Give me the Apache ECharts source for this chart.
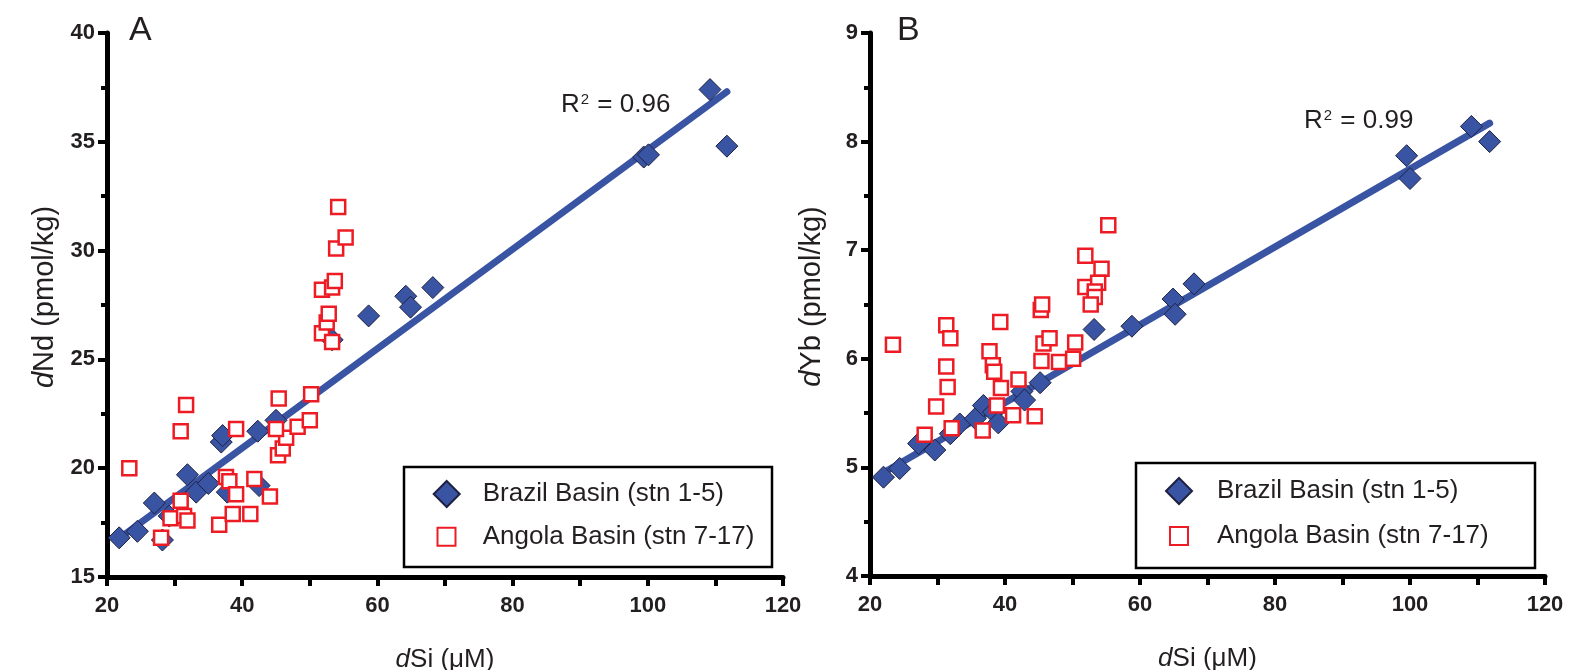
<!DOCTYPE html>
<html>
<head>
<meta charset="utf-8">
<script src="https://cdn.jsdelivr.net/npm/echarts@6/dist/echarts.min.js"></script>
<style>
  html, body { margin: 0; padding: 0; background: #fff; }
  #chart { width: 1576px; height: 670px; }
</style>
</head>
<body>
<div id="chart"></div>
<script>
// axis ranges
const siRange = [20, 120];
const ndRange = [15, 40];
const ybRange = [4, 9];

const brazilName = 'Brazil Basin (stn 1-5)';
const angolaName = 'Angola Basin (stn 7-17)';

// panel A: dSi (uM) vs dNd (pmol/kg)
const brazilNd = [
  [21.8, 16.8], [24.5, 17.1], [27.0, 18.4], [28.2, 16.7], [29.2, 17.8],
  [31.9, 19.7], [33.2, 18.9], [35.0, 19.3], [36.9, 21.2], [37.1, 21.5],
  [37.8, 18.9], [42.5, 19.2], [42.3, 21.7], [45.0, 22.2], [53.3, 25.9],
  [58.7, 27.0], [64.2, 27.9], [64.9, 27.4], [68.2, 28.3], [99.4, 34.3],
  [100.1, 34.4], [109.2, 37.4], [111.7, 34.8]
];
const angolaNd = [
  [23.3, 20.0], [28.0, 16.8], [29.4, 17.7], [31.4, 17.8], [31.9, 17.6],
  [30.9, 18.5], [30.9, 21.7], [31.7, 22.9], [36.6, 17.4], [38.6, 17.9],
  [41.2, 17.9], [37.6, 19.6], [38.1, 19.4], [39.1, 18.8], [41.8, 19.5],
  [44.1, 18.7], [39.1, 21.8], [45.3, 20.6], [46.0, 20.9], [46.5, 21.4],
  [45.0, 21.8], [48.2, 21.9], [50.0, 22.2], [45.4, 23.2], [50.2, 23.4],
  [51.8, 26.2], [52.5, 26.7], [52.8, 27.1], [53.3, 25.8], [51.8, 28.2],
  [53.3, 28.3], [53.7, 28.6], [53.9, 30.1], [55.3, 30.6], [54.2, 32.0]
];
const fitNd = [[22.8, 17.0], [111.7, 37.3]];

// panel B: dSi (uM) vs dYb (pmol/kg)
const brazilYb = [
  [22.0, 4.91], [24.4, 4.99], [27.2, 5.22], [29.6, 5.16], [31.9, 5.31],
  [33.3, 5.40], [35.6, 5.45], [36.8, 5.57], [38.3, 5.51], [39.0, 5.41],
  [42.5, 5.70], [42.9, 5.62], [45.2, 5.78], [53.2, 6.27], [58.8, 6.30],
  [64.9, 6.55], [65.2, 6.41], [68.0, 6.69], [99.5, 7.87], [100.0, 7.66],
  [109.1, 8.14], [111.8, 8.00]
];
const angolaYb = [
  [23.4, 6.13], [28.1, 5.30], [29.8, 5.56], [31.3, 6.31], [31.9, 6.19],
  [31.3, 5.93], [31.5, 5.74], [32.1, 5.36], [36.7, 5.34], [37.7, 6.07],
  [38.2, 5.94], [38.4, 5.88], [38.8, 5.57], [39.4, 5.73], [39.3, 6.34],
  [41.2, 5.48], [42.0, 5.81], [44.4, 5.47], [45.3, 6.45], [45.5, 6.50],
  [45.7, 6.14], [46.6, 6.19], [45.4, 5.98], [48.0, 5.97], [50.1, 6.00],
  [50.4, 6.15], [51.9, 6.95], [55.3, 7.23], [54.3, 6.83], [51.9, 6.66],
  [53.8, 6.70], [53.3, 6.62], [53.3, 6.57], [52.7, 6.50]
];
const fitYb = [[22.0, 4.95], [111.8, 8.17]];

const r2Values = ['0.96', '0.99'];
const panelLabels = ['A', 'B'];

const FONT = 'Liberation Sans, Arial, sans-serif';
const INK = '#231f20';
const BLUE = '#3a54a4';
const RED = '#ed1c24';

const chart = echarts.init(document.getElementById('chart'), null, { renderer: 'canvas' });

function xAxisFor(gridIndex) {
  return {
    gridIndex,
    type: 'value',
    min: siRange[0],
    max: siRange[1],
    interval: 10,
    name: '{i|d}Si (\u03bcM)',
    nameLocation: 'middle',
    nameGap: 70,
    nameTextStyle: {
      fontSize: 26, color: INK, fontFamily: FONT,
      rich: { i: { fontStyle: 'italic', fontSize: 26, color: INK, fontFamily: FONT } }
    },
    axisLine: { show: true, lineStyle: { color: '#000', width: 5 } },
    axisTick: { show: true, length: 9, lineStyle: { color: '#000', width: 4 } },
    axisLabel: {
      margin: 18, fontSize: 22, fontWeight: 'bold', color: INK, fontFamily: FONT,
      formatter: v => (v % 20 === 0 ? String(v) : '')
    },
    splitLine: { show: false }
  };
}

function yAxisFor(gridIndex, range, step, label, gap) {
  return {
    gridIndex,
    type: 'value',
    min: range[0],
    max: range[1],
    interval: step,
    name: label,
    nameLocation: 'middle',
    nameGap: gap,
    nameTextStyle: {
      fontSize: 29, color: INK, fontFamily: FONT, padding: [0, 0, 0, 16],
      rich: { i: { fontStyle: 'italic', fontSize: 29, color: INK, fontFamily: FONT } }
    },
    axisLine: { show: true, lineStyle: { color: '#000', width: 5 } },
    axisTick: { show: true, length: 9, lineStyle: { color: '#000', width: 4 } },
    minorTick: { show: true, splitNumber: 2, length: 6, lineStyle: { color: '#000', width: 4 } },
    axisLabel: { margin: 12, fontSize: 22, fontWeight: 'bold', color: INK, fontFamily: FONT },
    splitLine: { show: false },
    minorSplitLine: { show: false }
  };
}

function fitSeries(idx, data) {
  return {
    type: 'line', xAxisIndex: idx, yAxisIndex: idx, data,
    symbol: 'none', silent: true, z: 1,
    lineStyle: { color: BLUE, width: 7, cap: 'round' }
  };
}

function brazilSeries(idx, data) {
  return {
    name: brazilName, type: 'scatter', xAxisIndex: idx, yAxisIndex: idx, data,
    symbol: 'diamond', symbolSize: 22, z: 2,
    itemStyle: { color: BLUE, borderColor: '#1f2140', borderWidth: 1, opacity: 1 }
  };
}

function angolaSeries(idx, data) {
  return {
    name: angolaName, type: 'scatter', xAxisIndex: idx, yAxisIndex: idx, data,
    symbol: 'rect', symbolSize: 14, z: 3,
    itemStyle: { color: '#fff', borderColor: RED, borderWidth: 2.5, opacity: 1 }
  };
}

// one legend per entry so each marker gets its own size; symbol centred at cx, text starts at tx
function legendItem(name, cx, tx, cy, size) {
  return {
    data: [name], left: cx - size / 2, top: cy - 15, orient: 'vertical', padding: 0,
    itemWidth: size, itemHeight: size, selectedMode: false, symbolKeepAspect: true,
    textStyle: {
      fontSize: 26, color: INK, fontFamily: FONT, lineHeight: 30,
      padding: [0, 0, 0, tx - (cx + size / 2) - 5]
    }
  };
}

function boxRect(x, y, w, h) {
  return {
    type: 'rect', silent: true, z: 0,
    shape: { x, y, width: w, height: h },
    style: { fill: '#fff', stroke: '#000', lineWidth: 2.5 }
  };
}

function r2Text(value, x, y) {
  return {
    type: 'text', silent: true, x, y,
    style: {
      text: '{r|R}{s|2}{r| = ' + value + '}',
      fontFamily: FONT, fill: INK, verticalAlign: 'middle',
      rich: {
        r: { fontSize: 26, fontFamily: FONT, fill: INK, verticalAlign: 'bottom' },
        s: { fontSize: 15, fontFamily: FONT, fill: INK, verticalAlign: 'top', padding: [0, 1, 4, 1] }
      }
    }
  };
}

function plainText(text, x, y, size) {
  return {
    type: 'text', silent: true, x, y,
    style: { text, fontSize: size, fontFamily: FONT, fill: INK, verticalAlign: 'middle' }
  };
}

chart.setOption({
  animation: false,
  backgroundColor: '#fff',
  grid: [
    { left: 107, top: 33, width: 676, height: 544, outerBoundsMode: 'none', containLabel: false },
    { left: 870, top: 33, width: 675, height: 543, outerBoundsMode: 'none', containLabel: false }
  ],
  xAxis: [xAxisFor(0), xAxisFor(1)],
  yAxis: [
    yAxisFor(0, ndRange, 5, '{i|d}Nd (pmol/kg)', 48),
    yAxisFor(1, ybRange, 1, '{i|d}Yb (pmol/kg)', 44)
  ],
  legend: [
    legendItem(brazilName, 445.7, 481.7, 494, 26),
    legendItem(angolaName, 445.5, 481.7, 536.7, 18),
    legendItem(brazilName, 1178, 1216, 491, 26),
    legendItem(angolaName, 1178, 1216, 536, 18)
  ],
  graphic: [
    boxRect(404, 467, 368, 100),
    boxRect(1136, 463, 399, 105),
    r2Text(r2Values[0], 561, 105),
    r2Text(r2Values[1], 1304, 121),
    plainText(panelLabels[0], 129, 31, 34),
    plainText(panelLabels[1], 897, 31, 34)
  ],
  series: [
    fitSeries(0, fitNd),
    brazilSeries(0, brazilNd),
    angolaSeries(0, angolaNd),
    fitSeries(1, fitYb),
    brazilSeries(1, brazilYb),
    angolaSeries(1, angolaYb)
  ]
});
</script>
</body>
</html>
